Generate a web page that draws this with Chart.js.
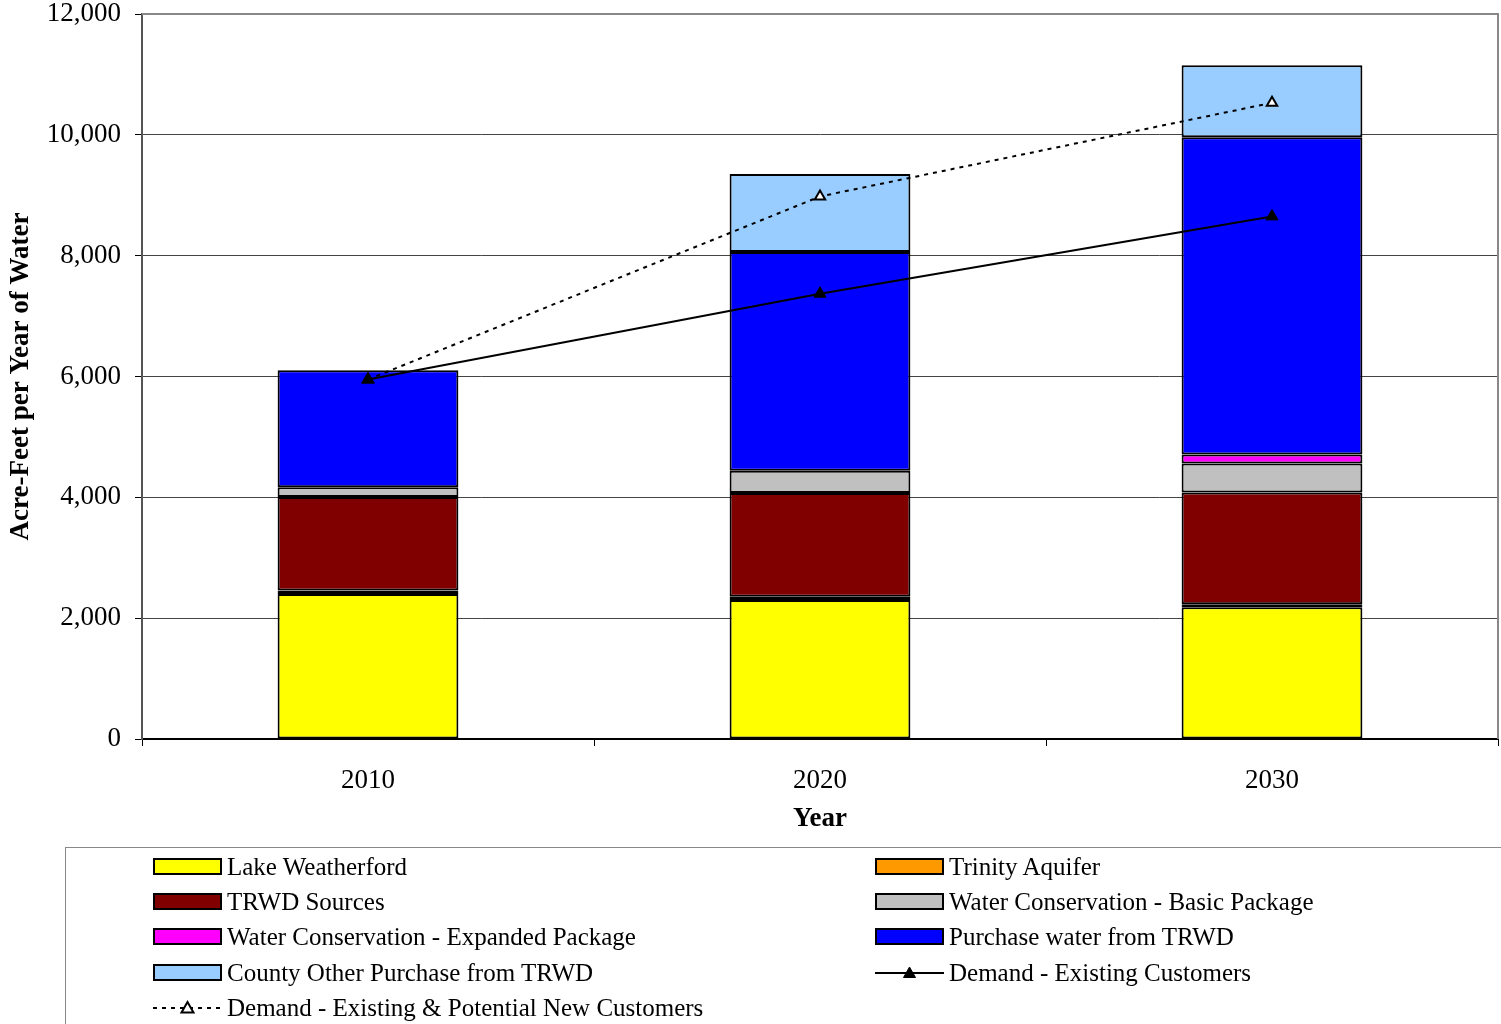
<!DOCTYPE html>
<html>
<head>
<meta charset="utf-8">
<script src="https://cdn.jsdelivr.net/npm/chart.js@4/dist/chart.umd.min.js"></script>
<style>
  html, body { margin: 0; padding: 0; background: #fff; overflow: hidden; }
  #wrap { position: relative; width: 1501px; height: 1024px; }
  #c { position: absolute; left: 0; top: 0; }
  #legend { position: absolute; left: 65px; top: 847px; width: 1500px; height: 220px;
            border-left: 1px solid #888; border-top: 1px solid #888; box-sizing: border-box;
            font-family: "Liberation Serif", "Times New Roman", serif; font-size: 25px; color: #000; }
  .item { position: absolute; height: 30px; display: flex; align-items: center; white-space: nowrap; }
  .item svg { display: block; margin-right: 4px; }
</style>
</head>
<body>
<div id="wrap">
  <canvas id="c" width="1501" height="1024"></canvas>
  <div id="legend"></div>
</div>
<script>
// ---- Data ----
const categories = ["2010", "2020", "2030"];
const lakeWeatherford   = [2400, 2300, 2180];
const trinityAquifer    = [60, 55, 50];
const trwdSources       = [1545, 1715, 1850];
const consBasic         = [160, 370, 480];
const consExpanded      = [0, 0, 150];
const purchaseTRWD      = [1940, 3620, 5250];
const countyOther       = [0, 1290, 1190];
const demandExisting    = [5950, 7370, 8650];
const demandPotential   = [5950, 8980, 10530];
const yTicks            = [0, 2000, 4000, 6000, 8000, 10000, 12000];

const FONT = '"Liberation Serif", "Times New Roman", serif';

function barDs(label, data, color) {
  return { type: 'bar', label, data, backgroundColor: color, borderColor: '#000',
           borderWidth: 2, borderSkipped: false, order: 2,
           barPercentage: 1.0, categoryPercentage: 0.4 };
}

const datasets = [
  barDs("Lake Weatherford", lakeWeatherford, "#FFFF00"),
  barDs("Trinity Aquifer", trinityAquifer, "#FF9900"),
  barDs("TRWD Sources", trwdSources, "#800000"),
  barDs("Water Conservation - Basic Package", consBasic, "#C0C0C0"),
  barDs("Water Conservation - Expanded Package", consExpanded, "#FF00FF"),
  barDs("Purchase water from TRWD", purchaseTRWD, "#0000FF"),
  barDs("County Other Purchase from TRWD", countyOther, "#99CCFF"),
  { type: 'line', label: "Demand - Existing Customers", data: demandExisting, stack: 'd1', order: 0,
    borderColor: '#000', borderWidth: 2, pointStyle: 'triangle', pointRadius: 7,
    pointBackgroundColor: '#000', pointBorderColor: '#000', pointBorderWidth: 1, tension: 0 },
  { type: 'line', label: "Demand - Existing & Potential New Customers", data: demandPotential, stack: 'd2', order: 0,
    borderColor: '#000', borderWidth: 2, borderDash: [4, 5], pointStyle: 'triangle', pointRadius: 6,
    pointBackgroundColor: '#fff', pointBorderColor: '#000', pointBorderWidth: 2, tension: 0 }
];

const plotBorder = {
  id: 'plotBorder',
  afterDatasetsDraw(chart) {
    const { ctx, chartArea: a } = chart;
    ctx.save();
    ctx.strokeStyle = '#888';
    ctx.lineWidth = 2;
    ctx.beginPath();
    ctx.moveTo(a.left, a.top);
    ctx.lineTo(a.right, a.top);
    ctx.lineTo(a.right, a.bottom);
    ctx.stroke();
    ctx.restore();
  }
};

const chart = new Chart(document.getElementById('c'), {
  data: { labels: categories, datasets },
  options: {
    responsive: false,
    devicePixelRatio: 1,
    animation: false,
    layout: { autoPadding: false, padding: { top: 14, right: 3, left: 0, bottom: 165 } },
    plugins: { legend: { display: false }, tooltip: { enabled: false } },
    scales: {
      x: {
        stacked: true,
        offset: true,
        grid: { offset: true, drawOnChartArea: false, drawTicks: true, tickLength: 7, tickColor: '#000', tickWidth: 1 },
        border: { display: true, color: '#000', width: 2 },
        ticks: { color: '#000', font: { family: FONT, size: 27 }, padding: 19 },
        title: { display: true, text: 'Year', color: '#000', font: { family: FONT, size: 27, weight: 'bold' },
                 padding: { top: 0, bottom: 24 } },
        afterFit(s) { s.height = 120; s.paddingLeft = 0; s.paddingRight = 0; }
      },
      y: {
        stacked: true,
        min: 0, max: 12000,
        afterBuildTicks(s) { s.ticks = yTicks.map(v => ({ value: v })); },
        grid: { color: '#444', lineWidth: 1, drawTicks: true, tickLength: 7, tickColor: '#000' },
        border: { display: true, color: '#555', width: 2 },
        ticks: { color: '#000', font: { family: FONT, size: 27 }, padding: 14,
                 callback: v => Number(v).toLocaleString('en-US') },
        title: { display: true, text: 'Acre-Feet per Year of Water', color: '#000',
                 font: { family: FONT, size: 27, weight: 'bold' }, padding: { top: 5, bottom: 0 } },
        afterFit(s) { s.width = 142; s.paddingTop = 0; s.paddingBottom = 0; }
      }
    }
  },
  plugins: [plotBorder]
});

// ---- HTML legend built from datasets ----
(function buildLegend() {
  const leg = document.getElementById('legend');
  const colX = [152 - 65, 874 - 65];
  const rowY = [866, 901, 936, 972, 1007].map(y => y - 847);
  chart.data.datasets.forEach((ds, i) => {
    const col = i % 2, row = Math.floor(i / 2);
    const item = document.createElement('div');
    item.className = 'item';
    item.style.left = colX[col] + 'px';
    item.style.top = (rowY[row] - 15) + 'px';
    const ns = 'http://www.w3.org/2000/svg';
    const svg = document.createElementNS(ns, 'svg');
    svg.setAttribute('width', '70'); svg.setAttribute('height', '20');
    if (ds.type === 'bar') {
      const r = document.createElementNS(ns, 'rect');
      r.setAttribute('x', '1'); r.setAttribute('y', '2'); r.setAttribute('width', '67'); r.setAttribute('height', '15');
      r.setAttribute('fill', ds.backgroundColor); r.setAttribute('stroke', '#000'); r.setAttribute('stroke-width', '2');
      svg.appendChild(r);
    } else {
      const l = document.createElementNS(ns, 'line');
      l.setAttribute('x1', '0'); l.setAttribute('x2', '69'); l.setAttribute('y1', '10'); l.setAttribute('y2', '10');
      l.setAttribute('stroke', '#000'); l.setAttribute('stroke-width', '2');
      if (ds.borderDash) l.setAttribute('stroke-dasharray', ds.borderDash.join(' '));
      svg.appendChild(l);
      const t = document.createElementNS(ns, 'polygon');
      t.setAttribute('points', '34.5,4 40.5,14.5 28.5,14.5');
      t.setAttribute('fill', ds.pointBackgroundColor); t.setAttribute('stroke', '#000');
      t.setAttribute('stroke-width', ds.pointBorderWidth);
      svg.appendChild(t);
    }
    item.appendChild(svg);
    const span = document.createElement('span');
    span.textContent = ds.label;
    item.appendChild(span);
    leg.appendChild(item);
  });
})();
</script>
</body>
</html>
